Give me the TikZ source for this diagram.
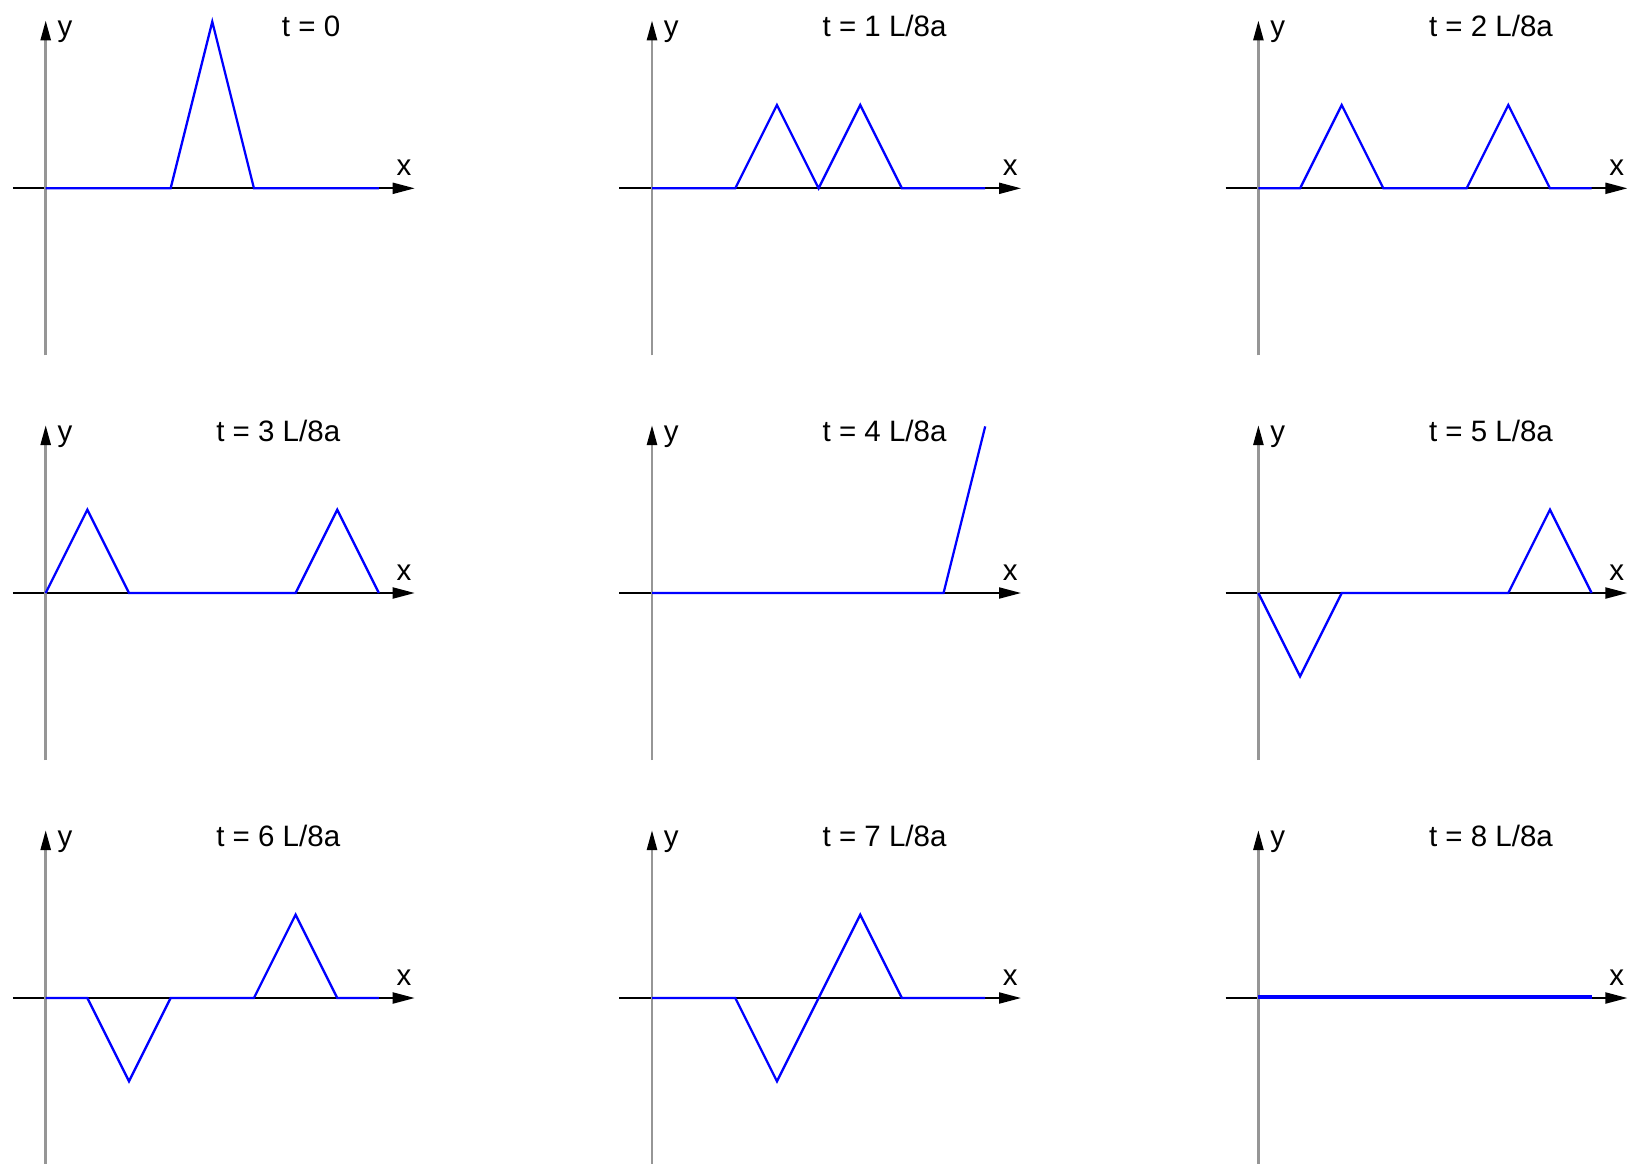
\documentclass[tikz,border=0pt]{standalone}
\usepackage{fontspec}
\setmainfont{Liberation Sans}
\usetikzlibrary{arrows.meta}
\definecolor{axgray}{RGB}{150,150,150}
\tikzset{
  xax/.style={draw=black, line width=2pt, -{Triangle[length=22pt,width=11pt]}},
  yax/.style={draw=axgray, line width=2.6pt, -{Triangle[length=20pt,width=10pt,color=black]}},
  wave/.style={draw=blue, line width=2.3pt},
  axlab/.style={font=\fontsize{29.5}{34}\selectfont, inner sep=0pt, anchor=base west},
  tlab/.style={font=\fontsize{29.5}{34}\selectfont, inner sep=0pt, anchor=base east},
}
\newcommand\wavepanel[5]{%
\begin{scope}[shift={(#1,#2)}, x=41.65pt, y=41.65pt]
  \coordinate (o#3) at (0,0);
  \coordinate (xs#3) at (-0.79,0);
  \coordinate (xe#3) at (8.86,0);
  \coordinate (ys#3) at (0,-4.01);
  \coordinate (ye#3) at (0,4.03);
  \draw[xax] (xs#3) -- (xe#3);
  \draw[yax] (ys#3) -- (ye#3);
  \node[axlab] (ylab#3) at (0.28,3.64) {y};
  \node[axlab] (xlab#3) at (8.42,0.31) {x};
  \node[tlab] (tlab#3) at (7.075,3.64) {#4};
  \draw[wave] #5;
\end{scope}}
\begin{document}
\begin{tikzpicture}[x=1pt,y=-1pt]
\useasboundingbox[fill=white] (0,0) rectangle (1628,1163);
\wavepanel{45.7}{188.3}{0}{t = 0}{(0,0) -- (3,0) -- (4,4) -- (5,0) -- (8,0)}
\wavepanel{652}{188.3}{1}{t = 1 L/8a}{(0,0) -- (2,0) -- (3,2) -- (4,0) -- (5,2) -- (6,0) -- (8,0)}
\wavepanel{1258.4}{188.3}{2}{t = 2 L/8a}{(0,0) -- (1,0) -- (2,2) -- (3,0) -- (5,0) -- (6,2) -- (7,0) -- (8,0)}
\wavepanel{45.7}{593}{3}{t = 3 L/8a}{(0,0) -- (1,2) -- (2,0) -- (6,0) -- (7,2) -- (8,0)}
\wavepanel{652}{593}{4}{t = 4 L/8a}{(0,0) -- (7,0) -- (8,4)}
\wavepanel{1258.4}{593}{5}{t = 5 L/8a}{(0,0) -- (1,-2) -- (2,0) -- (6,0) -- (7,2) -- (8,0)}
\wavepanel{45.7}{998}{6}{t = 6 L/8a}{(0,0) -- (1,0) -- (2,-2) -- (3,0) -- (5,0) -- (6,2) -- (7,0) -- (8,0)}
\wavepanel{652}{998}{7}{t = 7 L/8a}{(0,0) -- (2,0) -- (3,-2) -- (4,0) -- (5,2) -- (6,0) -- (8,0)}
\wavepanel{1258.4}{998}{8}{t = 8 L/8a}{[line width=4pt] (0,0.02) -- (8,0.02)}
\end{tikzpicture}
\end{document}
